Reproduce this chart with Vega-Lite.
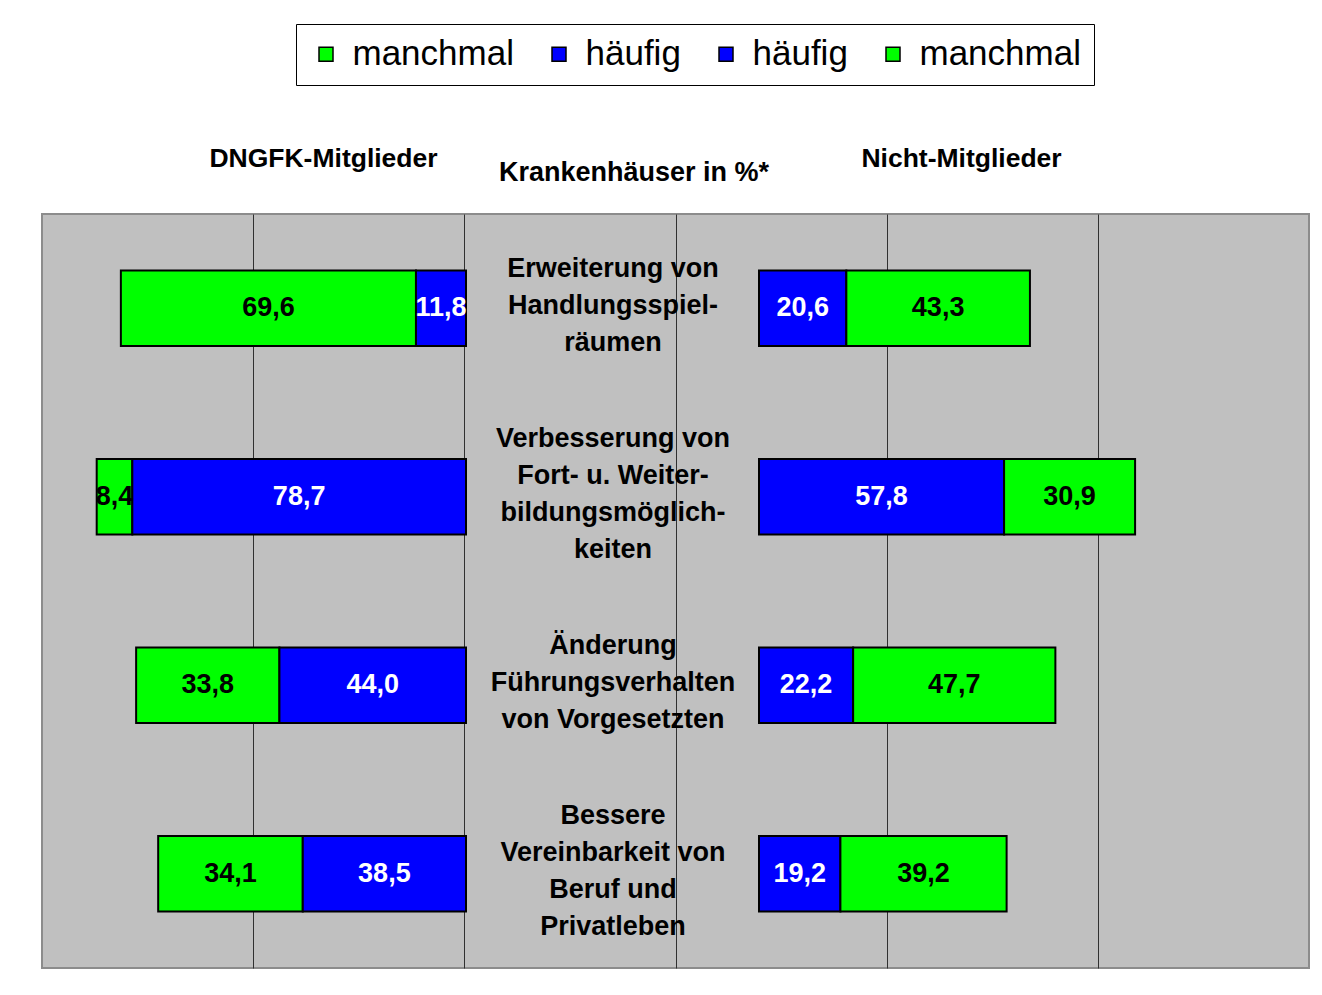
{
  "$schema": "https://vega.github.io/schema/vega-lite/v6.json",
  "width": 1267,
  "height": 754,
  "autosize": {"type": "none"},
  "padding": {"left": 42, "top": 214, "right": 13, "bottom": 27},
  "background": "white",
  "config": {
    "font": "Liberation Sans",
    "view": {"fill": "#C0C0C0", "stroke": "#8C8C8C", "strokeWidth": 2},
    "locale": {"number": {"decimal": ",", "thousands": ".", "grouping": [3], "currency": ["", " €"]}}
  },
  "datasets": {
    "umfrage": [
      {"gruppe": "DNGFK-Mitglieder", "frage": "Erweiterung von\nHandlungsspiel-\nräumen", "antwort": "manchmal", "reihe": "manchmal DNGFK", "wert": 69.6},
      {"gruppe": "DNGFK-Mitglieder", "frage": "Erweiterung von\nHandlungsspiel-\nräumen", "antwort": "häufig", "reihe": "häufig DNGFK", "wert": 11.8},
      {"gruppe": "DNGFK-Mitglieder", "frage": "Verbesserung von\nFort- u. Weiter-\nbildungsmöglich-\nkeiten", "antwort": "manchmal", "reihe": "manchmal DNGFK", "wert": 8.4},
      {"gruppe": "DNGFK-Mitglieder", "frage": "Verbesserung von\nFort- u. Weiter-\nbildungsmöglich-\nkeiten", "antwort": "häufig", "reihe": "häufig DNGFK", "wert": 78.7},
      {"gruppe": "DNGFK-Mitglieder", "frage": "Änderung\nFührungsverhalten\nvon Vorgesetzten", "antwort": "manchmal", "reihe": "manchmal DNGFK", "wert": 33.8},
      {"gruppe": "DNGFK-Mitglieder", "frage": "Änderung\nFührungsverhalten\nvon Vorgesetzten", "antwort": "häufig", "reihe": "häufig DNGFK", "wert": 44.0},
      {"gruppe": "DNGFK-Mitglieder", "frage": "Bessere\nVereinbarkeit von\nBeruf und\nPrivatleben", "antwort": "manchmal", "reihe": "manchmal DNGFK", "wert": 34.1},
      {"gruppe": "DNGFK-Mitglieder", "frage": "Bessere\nVereinbarkeit von\nBeruf und\nPrivatleben", "antwort": "häufig", "reihe": "häufig DNGFK", "wert": 38.5},
      {"gruppe": "Nicht-Mitglieder", "frage": "Erweiterung von\nHandlungsspiel-\nräumen", "antwort": "häufig", "reihe": "häufig Nicht", "wert": 20.6},
      {"gruppe": "Nicht-Mitglieder", "frage": "Erweiterung von\nHandlungsspiel-\nräumen", "antwort": "manchmal", "reihe": "manchmal Nicht", "wert": 43.3},
      {"gruppe": "Nicht-Mitglieder", "frage": "Verbesserung von\nFort- u. Weiter-\nbildungsmöglich-\nkeiten", "antwort": "häufig", "reihe": "häufig Nicht", "wert": 57.8},
      {"gruppe": "Nicht-Mitglieder", "frage": "Verbesserung von\nFort- u. Weiter-\nbildungsmöglich-\nkeiten", "antwort": "manchmal", "reihe": "manchmal Nicht", "wert": 30.9},
      {"gruppe": "Nicht-Mitglieder", "frage": "Änderung\nFührungsverhalten\nvon Vorgesetzten", "antwort": "häufig", "reihe": "häufig Nicht", "wert": 22.2},
      {"gruppe": "Nicht-Mitglieder", "frage": "Änderung\nFührungsverhalten\nvon Vorgesetzten", "antwort": "manchmal", "reihe": "manchmal Nicht", "wert": 47.7},
      {"gruppe": "Nicht-Mitglieder", "frage": "Bessere\nVereinbarkeit von\nBeruf und\nPrivatleben", "antwort": "häufig", "reihe": "häufig Nicht", "wert": 19.2},
      {"gruppe": "Nicht-Mitglieder", "frage": "Bessere\nVereinbarkeit von\nBeruf und\nPrivatleben", "antwort": "manchmal", "reihe": "manchmal Nicht", "wert": 39.2}
    ]
  },
  "data": {"name": "umfrage"},
  "encoding": {
    "y": {
      "field": "frage",
      "type": "nominal",
      "sort": [
        "Erweiterung von\nHandlungsspiel-\nräumen",
        "Verbesserung von\nFort- u. Weiter-\nbildungsmöglich-\nkeiten",
        "Änderung\nFührungsverhalten\nvon Vorgesetzten",
        "Bessere\nVereinbarkeit von\nBeruf und\nPrivatleben"
      ],
      "scale": {"paddingInner": 0.6, "paddingOuter": 0.3},
      "axis": {
        "title": null,
        "orient": "left",
        "offset": -570.5,
        "ticks": false,
        "tickSize": 0,
        "domain": false,
        "grid": false,
        "labelPadding": 0,
        "labelAlign": "center",
        "labelBaseline": "middle",
        "labelOffset": {"condition": {"test": "length(split(datum.value, '\\n')) == 4", "value": -58}, "value": -39},
        "labelFontSize": 27,
        "labelFontWeight": "bold",
        "labelColor": "black",
        "labelLineHeight": 37,
        "labelLimit": 500,
        "labelOverlap": false,
        "labelExpr": "split(datum.label, '\\n')"
      }
    }
  },
  "layer": [
    {
      "mark": {"type": "point", "opacity": 0},
      "encoding": {
        "x": {
          "field": "wert",
          "type": "quantitative",
          "scale": {"domain": [0, 300], "nice": false},
          "axis": {
            "orient": "top",
            "values": [50, 100, 150, 200, 250],
            "grid": true,
            "gridColor": "#303030",
            "gridWidth": 1,
            "gridOpacity": 1,
            "labels": false,
            "ticks": false,
            "domain": false,
            "title": "Krankenhäuser in %*",
            "titleFontSize": 27,
            "titleFontWeight": "bold",
            "titleColor": "black",
            "titleAlign": "center",
            "titleBaseline": "middle",
            "titleX": 591.5,
            "titleY": -42
          }
        }
      }
    },
    {
      "transform": [
        {"filter": "datum.gruppe === 'DNGFK-Mitglieder'"},
        {"stack": "wert", "groupby": ["frage"], "sort": [{"field": "antwort", "order": "ascending"}], "as": ["x0", "x1"]}
      ],
      "layer": [
        {
          "mark": {"type": "bar", "stroke": "black", "strokeWidth": 2, "opacity": 1},
          "encoding": {
            "x": {
              "field": "x0",
              "type": "quantitative",
              "scale": {"domain": [0, 100], "range": [424, 0], "nice": false, "zero": false},
              "axis": {
                "orient": "top", "grid": false, "labels": false, "ticks": false, "domain": false,
                "title": "DNGFK-Mitglieder", "titleFontSize": 26.5, "titleFontWeight": "bold", "titleColor": "black",
                "titleAlign": "center", "titleBaseline": "middle", "titleX": 281, "titleY": -56
              }
            },
            "x2": {"field": "x1"},
            "color": {
              "field": "reihe",
              "type": "nominal",
              "scale": {
                "domain": ["manchmal DNGFK", "häufig DNGFK", "häufig Nicht", "manchmal Nicht"],
                "range": ["#00FF00", "#0000FF", "#0000FF", "#00FF00"]
              },
              "legend": {
                "title": null, "orient": "none", "legendX": 254, "legendY": -190, "direction": "horizontal",
                "labelExpr": "split(datum.label, ' ')[0]", "labelFontSize": 35, "labelColor": "black",
                "labelLimit": 500, "labelOffset": 9, "symbolType": "square", "symbolSize": 196,
                "symbolStrokeColor": "black", "symbolStrokeWidth": 1.5, "symbolOpacity": 1,
                "columnPadding": 27, "padding": 12.5, "strokeColor": "black", "fillColor": "white"
              }
            }
          }
        },
        {
          "transform": [
            {"fold": ["x0", "x1"], "as": ["ende", "pos"]},
            {"aggregate": [{"op": "mean", "field": "pos", "as": "mitte"}], "groupby": ["frage", "antwort", "wert"]}
          ],
          "mark": {"type": "text", "fontSize": 27, "fontWeight": "bold", "align": "center", "baseline": "middle"},
          "encoding": {
            "x": {
              "field": "mitte",
              "type": "quantitative",
              "scale": {"domain": [0, 100], "range": [424, 0], "nice": false, "zero": false},
              "axis": {
                "orient": "top", "grid": false, "labels": false, "ticks": false, "domain": false,
                "title": "DNGFK-Mitglieder", "titleFontSize": 26.5, "titleFontWeight": "bold", "titleColor": "black",
                "titleAlign": "center", "titleBaseline": "middle", "titleX": 281, "titleY": -56
              }
            },
            "text": {"field": "wert", "type": "quantitative", "format": ".1f"},
            "color": {"condition": {"test": "datum.antwort === 'häufig'", "value": "white"}, "value": "black"}
          }
        }
      ]
    },
    {
      "transform": [
        {"filter": "datum.gruppe === 'Nicht-Mitglieder'"},
        {"stack": "wert", "groupby": ["frage"], "sort": [{"field": "antwort", "order": "ascending"}], "as": ["x0", "x1"]}
      ],
      "layer": [
        {
          "mark": {"type": "bar", "stroke": "black", "strokeWidth": 2, "opacity": 1},
          "encoding": {
            "x": {
              "field": "x0",
              "type": "quantitative",
              "scale": {"domain": [0, 100], "range": [717, 1141], "nice": false, "zero": false},
              "axis": {
                "orient": "top", "grid": false, "labels": false, "ticks": false, "domain": false,
                "title": "Nicht-Mitglieder", "titleFontSize": 26.5, "titleFontWeight": "bold", "titleColor": "black",
                "titleAlign": "center", "titleBaseline": "middle", "titleX": 919, "titleY": -56
              }
            },
            "x2": {"field": "x1"},
            "color": {
              "field": "reihe",
              "type": "nominal",
              "scale": {
                "domain": ["manchmal DNGFK", "häufig DNGFK", "häufig Nicht", "manchmal Nicht"],
                "range": ["#00FF00", "#0000FF", "#0000FF", "#00FF00"]
              },
              "legend": {
                "title": null, "orient": "none", "legendX": 254, "legendY": -190, "direction": "horizontal",
                "labelExpr": "split(datum.label, ' ')[0]", "labelFontSize": 35, "labelColor": "black",
                "labelLimit": 500, "labelOffset": 9, "symbolType": "square", "symbolSize": 196,
                "symbolStrokeColor": "black", "symbolStrokeWidth": 1.5, "symbolOpacity": 1,
                "columnPadding": 27, "padding": 12.5, "strokeColor": "black", "fillColor": "white"
              }
            }
          }
        },
        {
          "transform": [
            {"fold": ["x0", "x1"], "as": ["ende", "pos"]},
            {"aggregate": [{"op": "mean", "field": "pos", "as": "mitte"}], "groupby": ["frage", "antwort", "wert"]}
          ],
          "mark": {"type": "text", "fontSize": 27, "fontWeight": "bold", "align": "center", "baseline": "middle"},
          "encoding": {
            "x": {
              "field": "mitte",
              "type": "quantitative",
              "scale": {"domain": [0, 100], "range": [717, 1141], "nice": false, "zero": false},
              "axis": {
                "orient": "top", "grid": false, "labels": false, "ticks": false, "domain": false,
                "title": "Nicht-Mitglieder", "titleFontSize": 26.5, "titleFontWeight": "bold", "titleColor": "black",
                "titleAlign": "center", "titleBaseline": "middle", "titleX": 919, "titleY": -56
              }
            },
            "text": {"field": "wert", "type": "quantitative", "format": ".1f"},
            "color": {"condition": {"test": "datum.antwort === 'häufig'", "value": "white"}, "value": "black"}
          }
        }
      ]
    }
  ],
  "resolve": {"scale": {"x": "independent"}, "axis": {"x": "independent"}}
}
